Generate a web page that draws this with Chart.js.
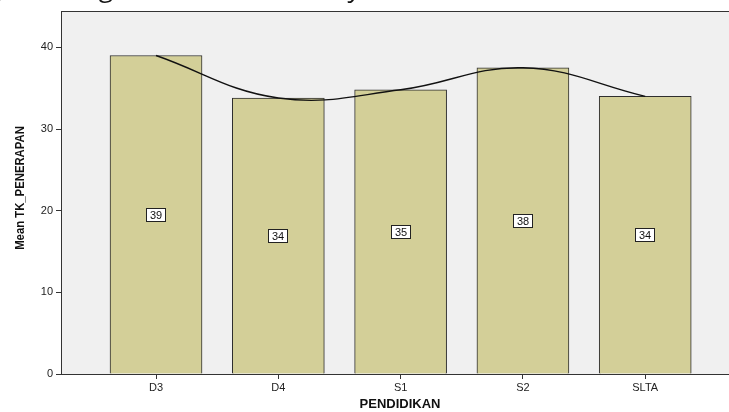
<!DOCTYPE html>
<html>
<head>
<meta charset="utf-8">
<script src="https://cdn.jsdelivr.net/npm/chart.js@4"></script>
<style>
  html, body { margin: 0; padding: 0; background: #fff; overflow: hidden; }
  #wrap { position: relative; width: 729px; height: 412px; }
  #cut { position: absolute; left: 0; top: -31px; width: 729px; height: 36px;
         font-family: "Open Sans", "Liberation Sans", sans-serif; font-size: 26px; line-height: 36px;
         color: #111; white-space: nowrap; }
  #cut span { position: absolute; top: 0; }
</style>
</head>
<body>
<div id="wrap">
  <div id="cut"><span style="left:-6px">y,</span><span style="left:62px">Tingkat Hasil</span><span style="left:279px">Survey</span></div>
  <canvas id="TkChart" width="729" height="412"></canvas>
</div>
<script>
var categories = ['D3', 'D4', 'S1', 'S2', 'SLTA'];
var meanValues = [39.0, 33.8, 34.8, 37.5, 34.0];
var yTicks = [0, 10, 20, 30, 40];

var points = categories.map(function (c, i) { return { x: i, y: meanValues[i] }; });

// plot background + frame, value boxes, axis titles
var decor = {
    id: 'decor',
    beforeDraw: function (chart) {
        var a = chart.chartArea, ctx = chart.ctx;
        ctx.save();
        ctx.fillStyle = '#f0f0f0';
        ctx.fillRect(a.left, a.top, a.right - a.left, a.bottom - a.top);
        ctx.restore();
    },
    afterDatasetsDraw: function (chart) {
        var a = chart.chartArea, ctx = chart.ctx;
        ctx.save();
        ctx.strokeStyle = '#333';
        ctx.lineWidth = 1;
        ctx.strokeRect(a.left + 0.5, a.top + 0.5, a.right - a.left + 5, a.bottom - a.top);
        // value labels in the middle of each bar
        var meta = chart.getDatasetMeta(1);
        ctx.font = '11px "Liberation Sans", Arial, sans-serif';
        ctx.textAlign = 'center';
        ctx.textBaseline = 'middle';
        meta.data.forEach(function (bar, i) {
            var cy = Math.round((bar.y + bar.base) / 2);
            var cx = Math.round(bar.x);
            var w = 20, h = 14;
            ctx.fillStyle = '#fff';
            ctx.fillRect(cx - w / 2, cy - h / 2, w, h);
            ctx.strokeStyle = '#222';
            ctx.strokeRect(cx - w / 2 + 0.5, cy - h / 2 + 0.5, w - 1, h - 1);
            ctx.fillStyle = '#111';
            ctx.fillText(String(Math.round(meanValues[i])), cx, cy + 0.5);
        });
        // axis titles
        ctx.fillStyle = '#111';
        ctx.font = 'bold 13px "Liberation Sans", Arial, sans-serif';
        ctx.save();
        ctx.translate(20, 188);
        ctx.rotate(-Math.PI / 2);
        ctx.scale(0.87, 1);
        ctx.fillText('Mean TK_PENERAPAN', 0, 0);
        ctx.restore();
        ctx.fillText('PENDIDIKAN', 400, 404);
        ctx.restore();
    }
};

new Chart(document.getElementById('TkChart').getContext('2d'), {
    data: {
        datasets: [
            {
                type: 'line',
                data: points,
                borderColor: '#111',
                borderWidth: 1.4,
                tension: 0.4,
                pointRadius: 0,
                fill: false,
                order: 0
            },
            {
                type: 'bar',
                data: points,
                backgroundColor: '#d3cf98',
                borderColor: '#2e2e2e',
                borderWidth: 1,
                barThickness: 92,
                order: 1
            }
        ]
    },
    options: {
        responsive: false,
        animation: false,
        layout: { padding: { top: 11, right: 0, bottom: 0, left: 0 } },
        plugins: { legend: { display: false }, tooltip: { enabled: false } },
        scales: {
            x: {
                type: 'linear',
                min: -0.777,
                max: 4.685,
                offset: false,
                afterBuildTicks: function (s) { s.ticks = categories.map(function (c, i) { return { value: i }; }); },
                afterFit: function (s) { s.height = 38; },
                border: { display: false },
                grid: { offset: false, drawOnChartArea: false, tickLength: 5, color: '#333' },
                ticks: {
                    padding: 2,
                    color: '#222',
                    font: { family: '"Liberation Sans", Arial, sans-serif', size: 11 },
                    callback: function (v) { return categories[v]; }
                }
            },
            y: {
                min: 0,
                max: 44.45,
                afterBuildTicks: function (s) { s.ticks = yTicks.map(function (v) { return { value: v }; }); },
                afterFit: function (s) { s.width = 61; },
                border: { display: false },
                grid: { drawOnChartArea: false, tickLength: 5, color: '#333' },
                ticks: {
                    padding: 3,
                    color: '#222',
                    font: { family: '"Liberation Sans", Arial, sans-serif', size: 11 }
                }
            }
        }
    },
    plugins: [decor]
});
</script>
</body>
</html>
